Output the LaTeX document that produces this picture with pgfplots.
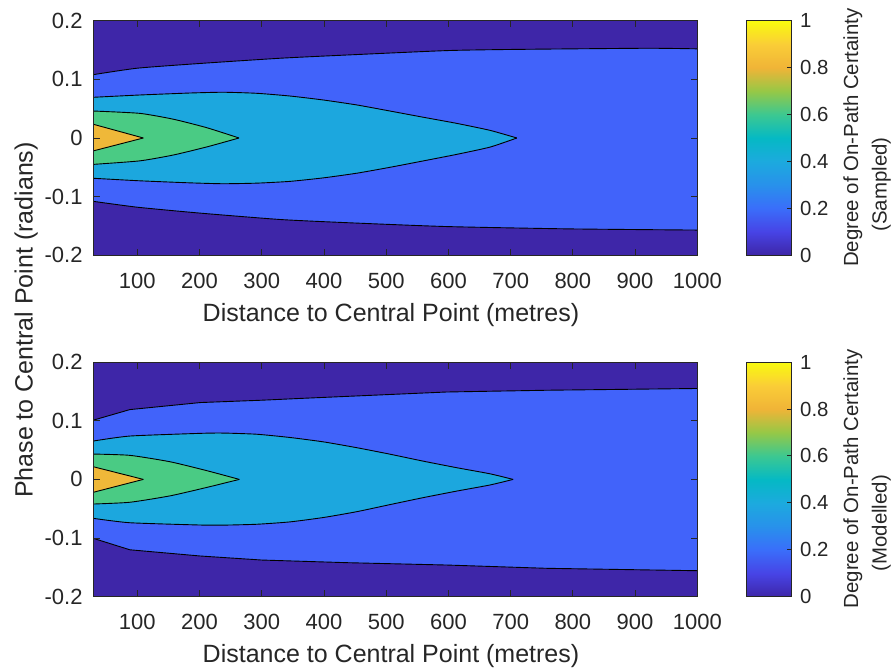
\documentclass[border=0pt]{standalone}
\usepackage{fontspec}
\setmainfont{Liberation Sans}
\usepackage{pgfplots}
\pgfplotsset{compat=1.18}
\usepgfplotslibrary{fillbetween}
\definecolor{cDark}{RGB}{62,38,168}
\definecolor{cBlue}{RGB}{65,99,250}
\definecolor{cCyan}{RGB}{28,167,222}
\definecolor{cGreen}{RGB}{74,203,132}
\definecolor{cOrange}{RGB}{239,184,57}
\definecolor{txt}{RGB}{38,38,38}
\pgfplotsset{
  mainax/.style={
    scale only axis, width=604pt, height=234.6pt, anchor=south west,
    xmin=29.3, xmax=1000, ymin=-0.2, ymax=0.2,
    xtick={100,200,300,400,500,600,700,800,900,1000},
    xticklabels={100,200,300,400,500,600,700,800,900,1000},
    ytick={-0.2,-0.1,0,0.1,0.2}, yticklabels={-0.2,-0.1,0,0.1,0.2},
    tick align=inside, major tick length=6.5pt,
    axis line style={txt, line width=0.9pt},
    tick style={txt, line width=0.9pt},
    tick label style={font=\fontsize{22}{26}\selectfont, text=txt},
    xticklabel style={anchor=base, yshift=-33pt, inner sep=0pt},
    yticklabel style={anchor=east, inner sep=0pt, xshift=-10.6pt},
    axis background/.style={fill=cDark},
    set layers, axis on top,
  },
  cl/.style={black, line width=0.9pt, no marks, smooth, tension=0.35},
  cbax/.style={
    scale only axis, width=45pt, height=234.6pt, anchor=south west,
    xmin=0, xmax=1, ymin=0, ymax=1, xtick=\empty,
    ytick={0,0.2,0.4,0.6,0.8,1}, yticklabels={0,0.2,0.4,0.6,0.8,1},
    ytick pos=right, yticklabel pos=right,
    tick align=inside, major tick length=5pt,
    axis line style={txt, line width=0.9pt},
    tick style={txt, line width=0.9pt},
    tick label style={font=\fontsize{20.4}{24}\selectfont, text=txt},
    yticklabel style={anchor=west, inner sep=0pt, xshift=8.3pt},
    colormap={par}{rgb255(0cm)=(62,38,168); rgb255(1cm)=(71,68,230); rgb255(2cm)=(58,110,250);
      rgb255(3cm)=(40,145,235); rgb255(4cm)=(28,170,222); rgb255(5cm)=(5,185,196);
      rgb255(6cm)=(60,200,145); rgb255(7cm)=(150,200,70); rgb255(8cm)=(240,180,55);
      rgb255(9cm)=(250,205,55); rgb255(10cm)=(249,251,14)},
    point meta min=0, point meta max=1, axis on top,
  },
}
\begin{document}
\begin{tikzpicture}
% ---------- top panel (Sampled) ----------
\begin{axis}[mainax, at={(93.3pt,412.7pt)}]
\addplot[cl, name path=u2] coordinates {(29.3,0.108) (100,0.119) (200,0.127) (330,0.136) (437,0.1415) (597,0.149) (704,0.151) (918,0.153) (1000,0.152)};
\addplot[cl, name path=l2] coordinates {(29.3,-0.108) (100,-0.118) (200,-0.128) (330,-0.139) (437,-0.1444) (597,-0.151) (795,-0.155) (1000,-0.157)};
\addplot[fill=cBlue, draw=none] fill between[of=u2 and l2];
\addplot[cl, name path=u4] coordinates {(29.3,0.0694) (104,0.0733) (185,0.0767) (238,0.078) (292,0.0762) (345,0.0716) (399,0.0648) (453,0.0563) (506,0.046) (560,0.0353) (613,0.025) (667,0.013) (710,0)};
\addplot[cl, name path=l4] coordinates {(29.3,-0.0687) (104,-0.073) (185,-0.0765) (238,-0.078) (292,-0.077) (345,-0.074) (399,-0.068) (453,-0.060) (506,-0.050) (560,-0.039) (613,-0.028) (667,-0.0155) (710,0)};
\addplot[fill=cCyan, draw=none] fill between[of=u4 and l4];
\addplot[cl, name path=u6] coordinates {(29.3,0.046) (104,0.042) (158,0.032) (211.5,0.0176) (263.5,0)};
\addplot[cl, name path=l6] coordinates {(29.3,-0.045) (104,-0.039) (158,-0.029) (211.5,-0.0153) (263.5,0)};
\addplot[fill=cGreen, draw=none] fill between[of=u6 and l6];
\addplot[cl, name path=u8] coordinates {(29.3,0.0234) (109.7,0)};
\addplot[cl, name path=l8] coordinates {(29.3,-0.022) (109.7,0)};
\addplot[fill=cOrange, draw=none] fill between[of=u8 and l8];
\end{axis}
\begin{axis}[cbax, at={(746.7pt,412.7pt)}]
\addplot[surf, shader=interp, point meta=y, mesh/cols=2] coordinates {(0,0) (1,0) (0,1) (1,1)};
\end{axis}
% ---------- bottom panel (Modelled) ----------
\begin{axis}[mainax, at={(93.3pt,71.3pt)}]
\addplot[cl, tension=0, name path=u2] coordinates {(29.3,0.101) (88,0.119) (201,0.131) (300,0.135) (361,0.138) (597,0.149) (758,0.152) (1000,0.155)};
\addplot[cl, tension=0, name path=l2] coordinates {(29.3,-0.1005) (88,-0.120) (201,-0.1306) (300,-0.1375) (437,-0.142) (597,-0.146) (758,-0.1516) (1000,-0.1557)};
\addplot[fill=cBlue, draw=none] fill between[of=u2 and l2];
\addplot[cl, name path=u4] coordinates {(29.3,0.0654) (88,0.0739) (201,0.0785) (238,0.079) (292,0.077) (345,0.0715) (399,0.064) (453,0.054) (506,0.043) (560,0.031) (613,0.020) (667,0.0095) (704,0)};
\addplot[cl, name path=l4] coordinates {(29.3,-0.0664) (88,-0.0739) (201,-0.0778) (238,-0.078) (292,-0.0765) (345,-0.0725) (399,-0.065) (453,-0.055) (506,-0.043) (560,-0.031) (613,-0.020) (667,-0.0095) (704,0)};
\addplot[fill=cCyan, draw=none] fill between[of=u4 and l4];
\addplot[cl, name path=u6] coordinates {(29.3,0.0432) (88,0.041) (153,0.030) (212,0.0148) (264,0)};
\addplot[cl, name path=l6] coordinates {(29.3,-0.042) (88,-0.039) (153,-0.028) (212,-0.0136) (264,0)};
\addplot[fill=cGreen, draw=none] fill between[of=u6 and l6];
\addplot[cl, name path=u8] coordinates {(29.3,0.0216) (109.7,0)};
\addplot[cl, name path=l8] coordinates {(29.3,-0.022) (109.7,0)};
\addplot[fill=cOrange, draw=none] fill between[of=u8 and l8];
\end{axis}
\begin{axis}[cbax, at={(746.7pt,71.3pt)}]
\addplot[surf, shader=interp, point meta=y, mesh/cols=2] coordinates {(0,0) (1,0) (0,1) (1,1)};
\end{axis}
% ---------- labels ----------
\node[rotate=90, anchor=base, text=txt, font=\fontsize{25}{30}\selectfont] at (32.5pt,348pt) {Phase to Central Point (radians)};
\node[anchor=base, text=txt, font=\fontsize{25}{30}\selectfont] at (391pt,346.3pt) {Distance to Central Point (metres)};
\node[anchor=base, text=txt, font=\fontsize{25}{30}\selectfont] at (391pt,5pt) {Distance to Central Point (metres)};
\node[rotate=90, anchor=base, text=txt, font=\fontsize{20.4}{24}\selectfont] at (858pt,530.5pt) {Degree of On-Path Certainty};
\node[rotate=90, anchor=base west, text=txt, font=\fontsize{20.4}{24}\selectfont] at (886.6pt,433pt) {(Sampled)};
\node[rotate=90, anchor=base, text=txt, font=\fontsize{20.4}{24}\selectfont] at (858pt,189pt) {Degree of On-Path Certainty};
\node[rotate=90, anchor=base west, text=txt, font=\fontsize{20.4}{24}\selectfont] at (886.6pt,93pt) {(Modelled)};
\pgfresetboundingbox
\path[use as bounding box] (0,0) rectangle (892pt,668pt);
\end{tikzpicture}
\end{document}
